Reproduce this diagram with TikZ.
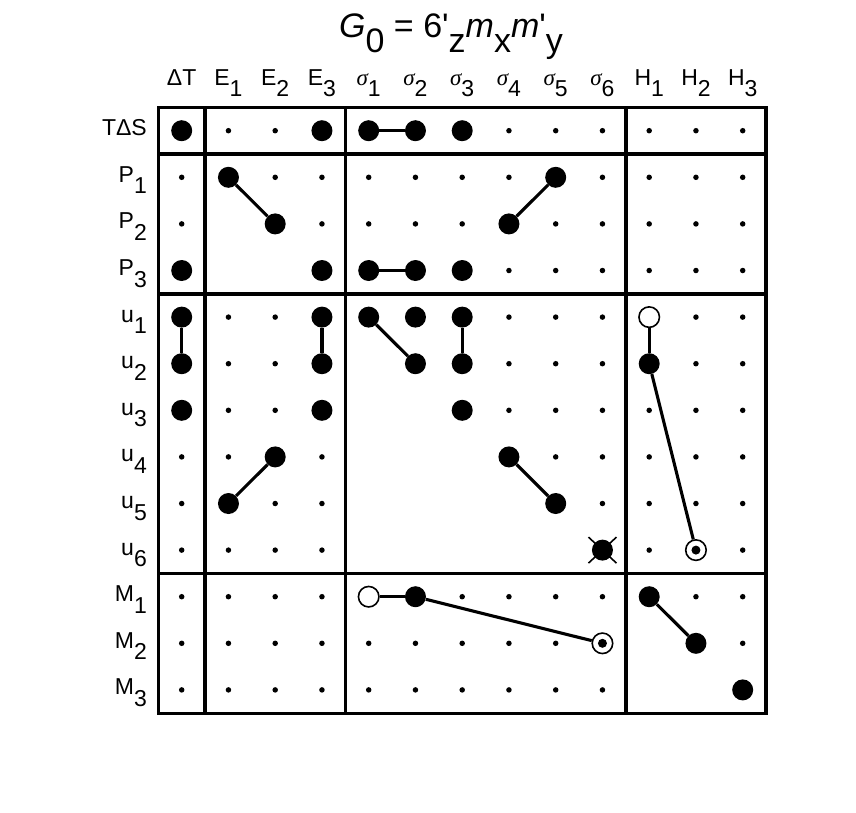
\documentclass[tikz,border=0pt]{standalone}
\usepackage{fontspec}
\setmainfont{Liberation Sans}
\newfontfamily\sigfont{Liberation Serif}
\newcommand\lsub[1]{\raisebox{-0.5em}{#1}}
\newcommand\tsub[1]{\raisebox{-0.45em}{#1}}
\newcommand\sg[1]{{\sigfont\itshape σ}\lsub{#1}}
\newcommand\cellrow[2]{%
  \foreach \t [count=\c from 0] in {#2} {%
    \node[cell-\t] (c#1-\c) at ({181.7+46.75*\c},{130.7+46.6*#1}) {};}}
\begin{document}
\begin{tikzpicture}[x=1pt,y=-1pt,
  cell-d/.style={circle,fill=black,inner sep=0pt,minimum size=5.5pt},
  cell-o/.style={circle,fill=black,inner sep=0pt,minimum size=21pt},
  cell-x/.style={cell-o},
  cell-w/.style={circle,draw=black,fill=white,line width=1.6pt,inner sep=0pt,minimum size=20.5pt},
  cell-r/.style={cell-w,path picture={\fill[black] (path picture bounding box.center) circle (4.5pt);}},
  cell-n/.style={coordinate},
  link/.style={line width=3.1pt},
  frame/.style={line width=3.4pt},
  lab/.style={font=\fontsize{23}{25}\selectfont,inner sep=0pt},
  collab/.style={lab,anchor=base},
  rowlab/.style={lab,anchor=base east}]
\useasboundingbox (0,0) rectangle (856,812);
% title
\node[font=\fontsize{34}{36}\selectfont,anchor=base,inner sep=0pt] (title) at (451,37)
  {\textit{G}\tsub{0} = 6\textquotesingle\tsub{z}\textit{m}\tsub{x}\textit{m}\textquotesingle\tsub{y}};
% frame
\draw[frame] (158.3,107.4) rectangle (766.1,713.2);
\foreach \xx in {205.1,345.3,625.8} \draw[frame] (\xx,107.4) -- (\xx,713.2);
\foreach \yy in {154,293.8,573.4} \draw[frame] (158.3,\yy) -- (766.1,\yy);
% cells
\cellrow{0}{o,d,d,o,o,o,o,d,d,d,d,d,d}
\cellrow{1}{d,o,d,d,d,d,d,d,o,d,d,d,d}
\cellrow{2}{d,n,o,d,d,d,d,o,d,d,d,d,d}
\cellrow{3}{o,n,n,o,o,o,o,d,d,d,d,d,d}
\cellrow{4}{o,d,d,o,o,o,o,d,d,d,w,d,d}
\cellrow{5}{o,d,d,o,n,o,o,d,d,d,o,d,d}
\cellrow{6}{o,d,d,o,n,n,o,d,d,d,d,d,d}
\cellrow{7}{d,d,o,d,n,n,n,o,d,d,d,d,d}
\cellrow{8}{d,o,d,d,n,n,n,n,o,d,d,d,d}
\cellrow{9}{d,d,d,d,n,n,n,n,n,x,d,r,d}
\cellrow{10}{d,d,d,d,w,o,d,d,d,d,o,d,d}
\cellrow{11}{d,d,d,d,d,d,d,d,d,r,n,o,d}
\cellrow{12}{d,d,d,d,d,d,d,d,d,d,n,n,o}
% cross mark
\draw[line width=1.6pt] ([xshift=-14pt,yshift=-13pt]c9-9.center) -- ([xshift=14pt,yshift=13pt]c9-9.center);
\draw[line width=1.6pt] ([xshift=-14pt,yshift=13pt]c9-9.center) -- ([xshift=14pt,yshift=-13pt]c9-9.center);
% connectors
\draw[link] (c0-4) -- (c0-5);
\draw[link] (c1-1) -- (c2-2);
\draw[link] (c2-7) -- (c1-8);
\draw[link] (c3-4) -- (c3-5);
\draw[link] (c4-0) -- (c5-0);
\draw[link] (c4-3) -- (c5-3);
\draw[link] (c8-1) -- (c7-2);
\draw[link] (c4-4) -- (c5-5);
\draw[link] (c4-6) -- (c5-6);
\draw[link] (c7-7) -- (c8-8);
\draw[link] (c4-10) -- (c5-10);
\draw[link] (c5-10) -- (c9-11);
\draw[link] (c10-4) -- (c10-5);
\draw[link] (c10-5) -- (c11-9);
\draw[link] (c10-10) -- (c11-11);
% column labels
\foreach \c/\txt in {0/ΔT,1/E\lsub{1},2/E\lsub{2},3/E\lsub{3},4/\sg{1},5/\sg{2},6/\sg{3},7/\sg{4},8/\sg{5},9/\sg{6},10/H\lsub{1},11/H\lsub{2},12/H\lsub{3}}
  \node[collab] (h\c) at ({181.7+46.75*\c},85) {\txt};
% row labels
\foreach \r/\txt in {0/TΔS,1/P\lsub{1},2/P\lsub{2},3/P\lsub{3},4/u\lsub{1},5/u\lsub{2},6/u\lsub{3},7/u\lsub{4},8/u\lsub{5},9/u\lsub{6},10/M\lsub{1},11/M\lsub{2},12/M\lsub{3}}
  \node[rowlab] (v\r) at (147,{135.7+46.6*\r}) {\txt};
\end{tikzpicture}
\end{document}
